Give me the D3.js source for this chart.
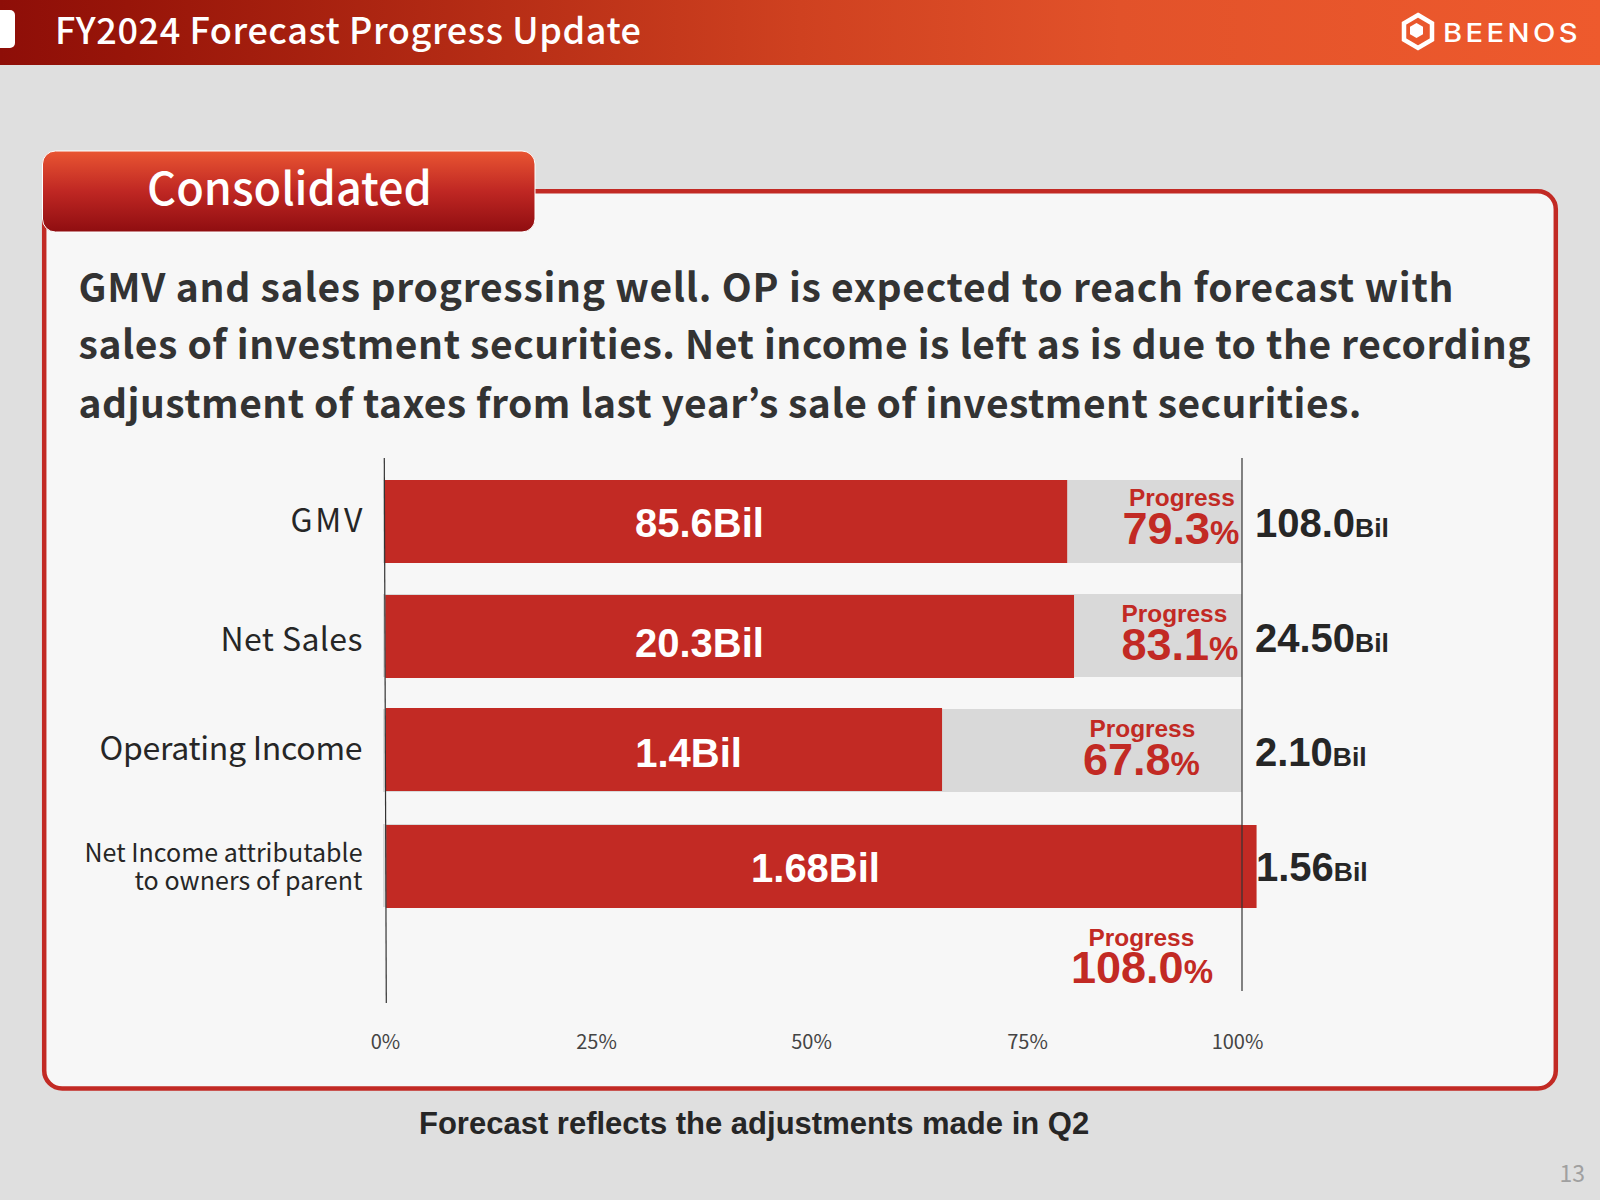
<!DOCTYPE html>
<html>
<head>
<meta charset="utf-8">
<title>FY2024 Forecast Progress Update</title>
<script src="https://cdn.jsdelivr.net/npm/d3@7"></script>
<style>
    body { margin: 0; background: #dfdfdf; }
    svg { display: block; }
    .jp { font-family: "Noto Sans CJK JP", "Noto Sans", sans-serif; }
    .ar { font-family: "Liberation Sans", Arial, sans-serif; font-weight: 700; }
</style>
</head>
<body>
<div id="chart"></div>
<script>
// values
const categories = ["GMV", "Net Sales", "Operating Income", "Net Income"];
const barLengths = [79.6, 80.4, 65.0, 101.7];
const barLabels = ["85.6Bil", "20.3Bil", "1.4Bil", "1.68Bil"];
const progressValues = ["79.3", "83.1", "67.8", "108.0"];
const forecastValues = ["108.0", "24.50", "2.10", "1.56"];
const tickValues = [0, 25, 50, 75, 100];
const bodyLines = [
    "GMV and sales progressing well. OP is expected to reach forecast with",
    "sales of investment securities. Net income is left as is due to the recording",
    "adjustment of taxes from last year\u2019s sale of investment securities."
];

const RED = "#c22a24";
const INK = "#262626";

const svg = d3.select("#chart").append("svg")
    .attr("width", 1600)
    .attr("height", 1200);

const defs = svg.append("defs");

const headGrad = defs.append("linearGradient").attr("id", "headGrad");
headGrad.append("stop").attr("offset", "0%").attr("stop-color", "#8e0e08");
headGrad.append("stop").attr("offset", "8%").attr("stop-color", "#981509");
headGrad.append("stop").attr("offset", "50%").attr("stop-color", "#cf4120");
headGrad.append("stop").attr("offset", "70%").attr("stop-color", "#e2522a");
headGrad.append("stop").attr("offset", "100%").attr("stop-color", "#ee5a2d");

const tabGrad = defs.append("linearGradient")
    .attr("id", "tabGrad")
    .attr("x1", 0).attr("y1", 0).attr("x2", 0).attr("y2", 1);
tabGrad.append("stop").attr("offset", "0%").attr("stop-color", "#e95532");
tabGrad.append("stop").attr("offset", "50%").attr("stop-color", "#bf2723");
tabGrad.append("stop").attr("offset", "100%").attr("stop-color", "#8f0d10");

// background + header
svg.append("rect").attr("width", 1600).attr("height", 1200).attr("fill", "#dfdfdf");
svg.append("rect").attr("width", 1600).attr("height", 65).attr("fill", "url(#headGrad)");
svg.append("rect").attr("x", -12).attr("y", 10).attr("width", 27).attr("height", 38).attr("rx", 5).attr("fill", "#fff");

svg.append("text")
    .attr("class", "jp")
    .attr("x", 55)
    .attr("y", 44)
    .attr("fill", "#fff")
    .attr("textLength", 586)
    .style("font-size", "36px")
    .style("font-weight", 500)
    .text("FY2024 Forecast Progress Update");

// logo
const hexagon = (cx, cy, rx, ry) => [
    [cx, cy - ry], [cx + rx, cy - ry / 2], [cx + rx, cy + ry / 2],
    [cx, cy + ry], [cx - rx, cy + ry / 2], [cx - rx, cy - ry / 2]
];
svg.append("polygon")
    .attr("points", hexagon(1418, 31.5, 14, 16.5).join(" "))
    .attr("fill", "none")
    .attr("stroke", "#fff")
    .attr("stroke-width", 4.5);
svg.append("polygon")
    .attr("points", hexagon(1416.5, 30.5, 6.5, 7.5).join(" "))
    .attr("fill", "#fff");
svg.append("text")
    .attr("x", 1443)
    .attr("y", 41.5)
    .attr("fill", "#fff")
    .attr("textLength", 138)
    .attr("lengthAdjust", "spacingAndGlyphs")
    .style("font-family", "Inter, sans-serif")
    .style("font-size", "25.5px")
    .style("font-weight", 500)
    .style("letter-spacing", "3px")
    .text("BEENOS");

// panel
svg.append("rect")
    .attr("x", 44.2).attr("y", 191.2)
    .attr("width", 1511.6).attr("height", 897.3)
    .attr("rx", 18)
    .attr("fill", "#f7f7f7")
    .attr("stroke", RED)
    .attr("stroke-width", 4.5);

svg.append("rect")
    .attr("x", 42.5).attr("y", 151)
    .attr("width", 492.5).attr("height", 81)
    .attr("rx", 13)
    .attr("fill", "url(#tabGrad)")
    .attr("stroke", "#fff")
    .attr("stroke-width", 1);

svg.append("text")
    .attr("class", "jp")
    .attr("x", 289.5)
    .attr("y", 205)
    .attr("text-anchor", "middle")
    .attr("fill", "#fff")
    .style("font-size", "45px")
    .style("font-weight", 500)
    .text("Consolidated");

// body text
const bodyBaselines = [302, 359, 418];
const bodyWidths = [1375, 1452, 1283];
svg.selectAll(".body-line")
    .data(bodyLines)
    .enter().append("text")
    .attr("class", "body-line jp")
    .attr("x", 78.5)
    .attr("y", (d, i) => bodyBaselines[i])
    .attr("textLength", (d, i) => bodyWidths[i])
    .attr("fill", "#333")
    .style("font-size", "39px")
    .style("font-weight", 700)
    .text(d => d);

// scales
const x = d3.scaleLinear().domain([0, 100]).range([385, 1242]);
const y = d3.scaleOrdinal().domain(categories).range([480, 595, 708, 825]);
const barHeight = 83;
const trackOffset = [0, -1, 1, -1];
// the zero line leans a little on the slide
const zeroX = d3.scaleLinear().domain([458, 1003]).range([384.3, 386.3]);

// gray 100% track
svg.selectAll(".track")
    .data(categories)
    .enter().append("rect")
    .attr("class", "track")
    .attr("x", x(0) - 2)
    .attr("y", (d, i) => y(d) + trackOffset[i])
    .attr("width", x(100) - x(0) + 2)
    .attr("height", barHeight)
    .attr("fill", "#d9d9d9");

// achieved bars
svg.selectAll(".bar")
    .data(categories)
    .enter().append("rect")
    .attr("class", "bar")
    .attr("x", d => zeroX(y(d)) + 0.5)
    .attr("y", d => y(d))
    .attr("width", (d, i) => x(barLengths[i]) - zeroX(y(d)) - 0.5)
    .attr("height", barHeight)
    .attr("fill", RED);

// axis lines
svg.append("line")
    .attr("x1", zeroX(458)).attr("y1", 458)
    .attr("x2", zeroX(1003)).attr("y2", 1003)
    .attr("stroke", "#333").attr("stroke-width", 1.2);
svg.append("line")
    .attr("x1", x(100)).attr("y1", 458)
    .attr("x2", x(100)).attr("y2", 991)
    .attr("stroke", "#333").attr("stroke-width", 1.2);

// category labels
const labelBaselines = [531.5, 651, 760];
const labelWidths = [72, 142, 263];
svg.selectAll(".cat")
    .data(categories.slice(0, 3))
    .enter().append("text")
    .attr("class", "cat jp")
    .attr("x", 362.5)
    .attr("y", (d, i) => labelBaselines[i])
    .attr("text-anchor", "end")
    .attr("textLength", (d, i) => labelWidths[i])
    .attr("fill", INK)
    .style("font-size", "32px")
    .style("font-weight", 400)
    .text(d => d);

const smallBaselines = [861.5, 890];
const smallWidths = [278, 228];
svg.selectAll(".cat-small")
    .data(["Net Income attributable", "to owners of parent"])
    .enter().append("text")
    .attr("class", "cat-small jp")
    .attr("x", 362.5)
    .attr("y", (d, i) => smallBaselines[i])
    .attr("text-anchor", "end")
    .attr("textLength", (d, i) => smallWidths[i])
    .attr("fill", INK)
    .style("font-size", "25px")
    .style("font-weight", 400)
    .text(d => d);

// labels inside the bars
const barLabelX = [699.5, 699.5, 688.5, 815.5];
const barLabelBase = [537, 657, 767, 882];
svg.selectAll(".bar-label")
    .data(barLabels)
    .enter().append("text")
    .attr("class", "bar-label ar")
    .attr("x", (d, i) => barLabelX[i])
    .attr("y", (d, i) => barLabelBase[i])
    .attr("text-anchor", "middle")
    .attr("fill", "#fff")
    .style("font-size", "40px")
    .text(d => d);

// progress captions
const captionX = [1129, 1121.5, 1089.5, 1088.5];
const captionBase = [506, 622, 737, 946];
const pctX = [1122.5, 1121.5, 1083, 1071];
const pctBase = [544, 659.5, 775, 983];

svg.selectAll(".prog-cap")
    .data(progressValues)
    .enter().append("text")
    .attr("class", "prog-cap ar")
    .attr("x", (d, i) => captionX[i])
    .attr("y", (d, i) => captionBase[i])
    .attr("fill", RED)
    .style("font-size", "24.4px")
    .text("Progress");

const pct = svg.selectAll(".prog-val")
    .data(progressValues)
    .enter().append("text")
    .attr("class", "prog-val ar")
    .attr("x", (d, i) => pctX[i])
    .attr("y", (d, i) => pctBase[i])
    .attr("fill", RED)
    .style("font-size", "45px")
    .text(d => d);
pct.append("tspan").style("font-size", "33px").text("%");

// forecast values right of the 100% line
const forecastX = [1255, 1255, 1255, 1256];
const forecastBase = [537, 652, 766, 881];
const fc = svg.selectAll(".forecast")
    .data(forecastValues)
    .enter().append("text")
    .attr("class", "forecast ar")
    .attr("x", (d, i) => forecastX[i])
    .attr("y", (d, i) => forecastBase[i])
    .attr("fill", INK)
    .style("font-size", "40px")
    .text(d => d);
fc.append("tspan").style("font-size", "26.5px").text("Bil");

// tick labels on the slide are not evenly spaced
const tickScale = d3.scaleLinear().domain(tickValues).range([385, 596, 811, 1027, 1237]);
const axis = svg.append("g")
    .attr("transform", "translate(0,1032)")
    .call(d3.axisBottom(tickScale)
        .tickValues(tickValues)
        .tickSize(0)
        .tickFormat(d => d + "%"));
axis.select(".domain").remove();
axis.selectAll("text")
    .attr("class", "jp")
    .attr("fill", "#444")
    .style("font-size", "20px")
    .style("font-weight", 400);

// footnote + page number
svg.append("text")
    .attr("class", "ar")
    .attr("x", 419)
    .attr("y", 1134)
    .attr("fill", INK)
    .style("font-size", "31px")
    .text("Forecast reflects the adjustments made in Q2");

svg.append("text")
    .attr("class", "jp")
    .attr("x", 1585)
    .attr("y", 1182)
    .attr("text-anchor", "end")
    .attr("fill", "#a0a0a0")
    .style("font-size", "23px")
    .text("13");
</script>
</body>
</html>
